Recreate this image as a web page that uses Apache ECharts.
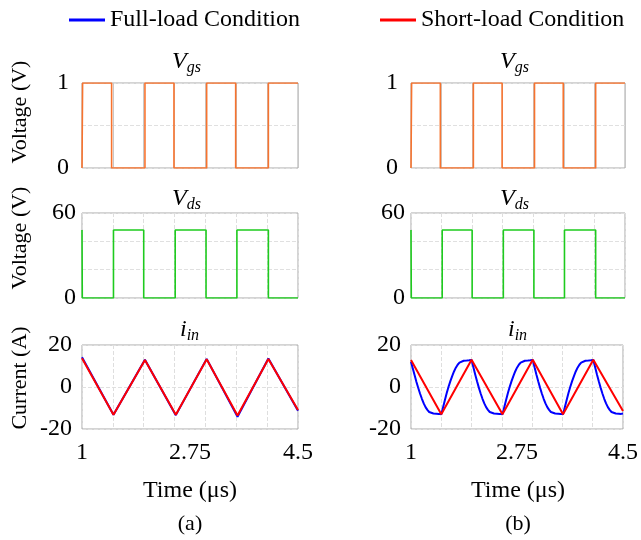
<!DOCTYPE html>
<html>
<head>
<meta charset="utf-8">
<script src="https://cdn.jsdelivr.net/npm/echarts@6/dist/echarts.min.js"></script>
<style>html,body{margin:0;padding:0;background:#fff}#c{width:641px;height:540px}</style>
</head>
<body>
<div id="c"></div>
<script>
// ---- data ----
const xTickLabels = [1, 2.75, 4.5];
const vgsTicks = [0, 1];
const vdsTicks = [0, 60];
const curTicks = [-20, 0, 20];

// gate-source voltage (switching instants, step hold)
const vgsT = [1.0, 1.01, 1.48, 2.02, 2.49, 3.02, 3.49, 4.02, 4.5];
const vgsV = [0, 1, 0, 1, 0, 1, 0, 1, 1];
// drain-source voltage
const vdsT = [1.0, 1.005, 1.51, 2.0, 2.51, 3.01, 3.51, 4.02, 4.5];
const vdsV = [48, 0, 48, 0, 48, 0, 48, 0, 0];

// (a) input current
const curAT = [1.0, 1.51, 2.02, 2.52, 3.02, 3.52, 4.02, 4.5];
const fullA = [14.2, -13.2, 13.0, -13.4, 13.4, -14.2, 13.6, -11.3];
const shortA = [13.7, -13.2, 12.9, -13.2, 13.2, -13.6, 13.3, -11.0];

// (b) input current
const shortBT = [1.0, 1.5, 2.0, 2.51, 3.01, 3.51, 4.01, 4.5];
const shortB = [12.9, -13.0, 13.0, -13.0, 13.0, -13.0, 13.0, -11.4];
const fullBT = [1.00,1.03,1.06,1.09,1.12,1.15,1.18,1.21,1.24,1.27,1.30,1.33,1.37,1.42,1.46,1.50,
  1.53,1.56,1.59,1.62,1.65,1.68,1.71,1.74,1.77,1.80,1.83,1.87,1.92,1.96,2.00,
  2.03,2.06,2.09,2.12,2.15,2.18,2.21,2.24,2.27,2.30,2.33,2.37,2.42,2.46,2.51,
  2.54,2.57,2.60,2.63,2.66,2.69,2.72,2.75,2.78,2.81,2.84,2.88,2.93,2.97,3.01,
  3.04,3.07,3.10,3.13,3.16,3.19,3.22,3.25,3.28,3.31,3.34,3.38,3.43,3.47,3.51,
  3.54,3.57,3.60,3.63,3.66,3.69,3.72,3.75,3.78,3.81,3.84,3.88,3.93,3.97,4.01,
  4.04,4.07,4.10,4.13,4.16,4.19,4.22,4.25,4.28,4.31,4.34,4.38,4.43,4.47,4.50];
const fullB = [12.0,8.8,5.6,2.4,-0.5,-3.2,-5.6,-7.8,-9.6,-10.9,-11.9,-12.4,-12.6,-12.7,-12.8,-13.0,
  -9.6,-6.2,-2.9,0.1,2.8,5.2,7.4,9.2,10.6,11.6,12.2,12.5,12.6,12.7,12.9,
  9.4,6.0,2.7,-0.3,-3.1,-5.6,-7.8,-9.6,-10.9,-11.9,-12.4,-12.6,-12.7,-12.8,-13.0,
  -9.6,-6.2,-2.9,0.1,2.8,5.2,7.4,9.2,10.6,11.6,12.2,12.5,12.6,12.7,12.9,
  9.4,6.0,2.7,-0.3,-3.1,-5.6,-7.8,-9.6,-10.9,-11.9,-12.4,-12.6,-12.7,-12.8,-13.0,
  -9.6,-6.2,-2.9,0.1,2.8,5.2,7.4,9.2,10.6,11.6,12.2,12.5,12.6,12.7,12.9,
  9.4,6.0,2.7,-0.3,-3.1,-5.6,-7.8,-9.6,-10.9,-11.9,-12.4,-12.6,-12.7,-12.8,-12.6];

const legendNames = ['Full-load Condition', 'Short-load Condition'];

// ---- styling / layout ----
const FONT = "'Liberation Serif','Times New Roman',serif";
const ORANGE = '#F7732E', GREEN = '#1ECB1E', BLUE = '#0000FF', RED = '#FF0000';
const zip = (t, v) => t.map((x, i) => [x, v[i]]);

const colLeft = [82, 411], colWidth = [216, 214];
const rowTop = [83, 213, 345], rowH = [85, 85, 84];

const grids = [], xAxes = [], yAxes = [];
const yCfg = [
  {min: 0, max: 1, interval: 0.5, ticks: vgsTicks, margin: 13},
  {min: 0, max: 60, interval: 20, ticks: vdsTicks, margin: 6},
  {min: -20, max: 20, interval: 20, ticks: curTicks, margin: 10}
];
for (let c = 0; c < 2; c++) {
  for (let r = 0; r < 3; r++) {
    const gi = grids.length;
    grids.push({left: colLeft[c], top: rowTop[r], width: colWidth[c], height: rowH[r],
      show: true, borderColor: '#a8a8a8', borderWidth: 1, backgroundColor: '#fff'});
    xAxes.push({type: 'value', gridIndex: gi, min: 1, max: 4.5, interval: 0.5,
      axisLine: {show: false}, axisTick: {show: false},
      axisLabel: {show: r === 2, customValues: xTickLabels, fontSize: 24, fontFamily: FONT, color: '#000', margin: 12},
      splitLine: {show: true, lineStyle: {type: r === 0 ? 'solid' : 'dashed', color: r === 0 ? '#c8c8c8' : '#dedede', width: 1}}});
    const y = yCfg[r];
    yAxes.push({type: 'value', gridIndex: gi, min: y.min, max: y.max, interval: y.interval,
      axisLine: {show: false}, axisTick: {show: false},
      axisLabel: {customValues: y.ticks, fontSize: 24, fontFamily: FONT, color: '#000', margin: y.margin},
      splitLine: {show: true, lineStyle: {type: 'dashed', color: '#e0e0e0', width: 1}}});
  }
}

const lineBase = {type: 'line', showSymbol: false, symbol: 'none', animation: false};
const series = [
  Object.assign({}, lineBase, {name: 'Vgs a', xAxisIndex: 0, yAxisIndex: 0, step: 'end', data: zip(vgsT, vgsV), lineStyle: {color: ORANGE, width: 1.6}, itemStyle: {color: ORANGE}}),
  Object.assign({}, lineBase, {name: 'Vds a', xAxisIndex: 1, yAxisIndex: 1, step: 'end', data: zip(vdsT, vdsV), lineStyle: {color: GREEN, width: 1.6}, itemStyle: {color: GREEN}}),
  Object.assign({}, lineBase, {name: legendNames[0], xAxisIndex: 2, yAxisIndex: 2, data: zip(curAT, fullA), lineStyle: {color: BLUE, width: 2}, itemStyle: {color: BLUE}}),
  Object.assign({}, lineBase, {name: legendNames[1], xAxisIndex: 2, yAxisIndex: 2, data: zip(curAT, shortA), lineStyle: {color: RED, width: 2}, itemStyle: {color: RED}}),
  Object.assign({}, lineBase, {name: 'Vgs b', xAxisIndex: 3, yAxisIndex: 3, step: 'end', data: zip(vgsT, vgsV), lineStyle: {color: ORANGE, width: 1.6}, itemStyle: {color: ORANGE}}),
  Object.assign({}, lineBase, {name: 'Vds b', xAxisIndex: 4, yAxisIndex: 4, step: 'end', data: zip(vdsT, vdsV), lineStyle: {color: GREEN, width: 1.6}, itemStyle: {color: GREEN}}),
  Object.assign({}, lineBase, {name: legendNames[0], xAxisIndex: 5, yAxisIndex: 5, data: zip(fullBT, fullB), lineStyle: {color: BLUE, width: 2}, itemStyle: {color: BLUE}}),
  Object.assign({}, lineBase, {name: legendNames[1], xAxisIndex: 5, yAxisIndex: 5, data: zip(shortBT, shortB), lineStyle: {color: RED, width: 2}, itemStyle: {color: RED}})
];

const subRich = {
  v: {fontSize: 24, fontStyle: 'italic', fontFamily: FONT, fill: '#000'},
  s: {fontSize: 16, fontStyle: 'italic', fontFamily: FONT, fill: '#000', padding: [12, 0, 0, 0]}
};
const graphics = [];
const titles = [['V', 'gs'], ['V', 'ds'], ['i', 'in']];
const titleY = [50, 187, 318];
for (let c = 0; c < 2; c++) {
  const cx = colLeft[c] + colWidth[c] / 2;
  for (let r = 0; r < 3; r++) {
    graphics.push({type: 'text', left: cx - 18 + (r === 2 ? 8 : 0), top: titleY[r],
      style: {text: '{v|' + titles[r][0] + '}{s|' + titles[r][1] + '}', rich: subRich}});
  }
  graphics.push({type: 'text', x: cx, y: 491, style: {text: 'Time (μs)', font: '24px ' + FONT, fill: '#000', align: 'center', verticalAlign: 'middle'}});
  graphics.push({type: 'text', x: cx, y: 524, style: {text: c === 0 ? '(a)' : '(b)', font: '22px ' + FONT, fill: '#000', align: 'center', verticalAlign: 'middle'}});
}
const yNames = [['Voltage (V)', 112], ['Voltage (V)', 238], ['Current (A)', 378]];
yNames.forEach(([t, cy]) => {
  graphics.push({type: 'text', x: 20, y: cy, rotation: Math.PI / 2,
    style: {text: t, font: '22px ' + FONT, fill: '#000', align: 'center', verticalAlign: 'middle'}});
});

const chart = echarts.init(document.getElementById('c'), null, {renderer: 'canvas'});
chart.setOption({
  animation: false,
  backgroundColor: '#fff',
  legend: {data: legendNames, top: 3, left: 64, icon: 'rect', itemWidth: 36, itemHeight: 3, itemGap: 80,
    textStyle: {fontSize: 24, fontFamily: FONT, color: '#000'}},
  grid: grids, xAxis: xAxes, yAxis: yAxes, series: series, graphic: graphics
});
</script>
</body>
</html>
